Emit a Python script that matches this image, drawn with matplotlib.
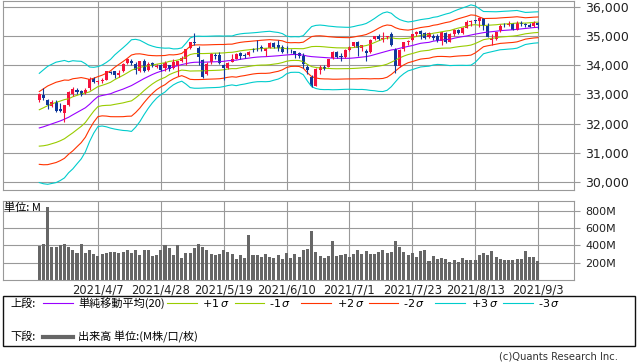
import numpy as np
import matplotlib.pyplot as plt
from matplotlib.patches import Rectangle
from matplotlib.lines import Line2D

# trading days shown (2021)
dates = ['3/17', '3/18', '3/19', '3/22', '3/23', '3/24', '3/25', '3/26', '3/29', '3/30', '3/31', '4/1', '4/5', '4/6',
         '4/7', '4/8', '4/9', '4/12', '4/13', '4/14', '4/15', '4/16', '4/19', '4/20', '4/21', '4/22', '4/23', '4/26', '4/27',
         '4/28', '4/29', '4/30', '5/3', '5/4', '5/5', '5/6', '5/7', '5/10', '5/11', '5/12', '5/13', '5/14', '5/17', '5/18',
         '5/19', '5/20', '5/21', '5/24', '5/25', '5/26', '5/27', '5/28', '6/1', '6/2', '6/3', '6/4', '6/7', '6/8', '6/9',
         '6/10', '6/11', '6/14', '6/15', '6/16', '6/17', '6/18', '6/21', '6/22', '6/23', '6/24', '6/25', '6/28', '6/29', '6/30',
         '7/1', '7/2', '7/6', '7/7', '7/8', '7/9', '7/12', '7/13', '7/14', '7/15', '7/16', '7/19', '7/20', '7/21', '7/22',
         '7/23', '7/26', '7/27', '7/28', '7/29', '7/30', '8/2', '8/3', '8/4', '8/5', '8/6', '8/9', '8/10', '8/11', '8/12',
         '8/13', '8/16', '8/17', '8/18', '8/19', '8/20', '8/23', '8/24', '8/25', '8/26', '8/27', '8/30', '8/31', '9/1', '9/2',
         '9/3']
tick_dates = ['4/7', '4/28', '5/19', '6/10', '7/1', '7/23', '8/13', '9/3']

opens = [32800, 32990, 32800, 32600, 32750, 32500, 32350, 32650, 33000, 33150,
         33100, 33050, 33200, 33550, 33420, 33470, 33500, 33770, 33790, 33650,
         33800, 34080, 34150, 34050, 33800, 34150, 33830, 34060, 33950, 33990,
         33900, 33990, 33900, 33980, 34150, 34200, 34580, 34800, 34600, 34170,
         33700, 34100, 34360, 34330, 34000, 33900, 34100, 34220, 34400, 34330,
         34330, 34540, 34600, 34610, 34500, 34600, 34760, 34680, 34620, 34500,
         34500, 34480, 34400, 34300, 33950, 33600, 33300, 33850, 33950, 33950,
         34250, 34450, 34300, 34280, 34520, 34650, 34800, 34580, 34500, 34450,
         34900, 34980, 34900, 34950, 35050, 34550, 33980, 34550, 34780, 34850,
         35050, 35160, 35100, 34950, 35000, 35000, 34830, 35100, 34800, 35050,
         35200, 35100, 35280, 35480, 35520, 35500, 35600, 35350, 34850, 34900,
         35200, 35380, 35370, 35400, 35200, 35450, 35400, 35380, 35330, 35440]
highs = [33050, 33227, 32850, 32800, 32800, 32700, 32650, 33100, 33250, 33200,
         33150, 33200, 33600, 33600, 33500, 33550, 33810, 33800, 33800, 33850,
         34060, 34256, 34200, 34100, 34150, 34200, 34100, 34100, 34050, 34050,
         34150, 34000, 34200, 34150, 34300, 34560, 34800, 35091, 34650, 34200,
         34100, 34400, 34400, 34450, 34050, 34120, 34370, 34430, 34450, 34400,
         34500, 34600, 34850, 34700, 34600, 34800, 34800, 34850, 34700, 34650,
         34550, 34500, 34450, 34400, 34000, 33650, 33900, 34000, 34000, 34200,
         34470, 34480, 34400, 34550, 34650, 34800, 34820, 34700, 34550, 34900,
         35000, 35050, 35150, 35000, 35150, 34600, 34550, 34800, 34850, 35080,
         35170, 35200, 35150, 35150, 35050, 35050, 35150, 35150, 35100, 35250,
         35230, 35300, 35550, 35530, 35550, 35631, 35620, 35450, 35050, 35150,
         35400, 35450, 35500, 35450, 35500, 35500, 35450, 35450, 35500, 35470]
lows = [32750, 32800, 32500, 32550, 32400, 32400, 32050, 32600, 32950, 33000,
        32950, 33000, 33150, 33400, 33350, 33400, 33480, 33700, 33550, 33600,
        33780, 34050, 34000, 33700, 33750, 33750, 33800, 33950, 33900, 33800,
        33800, 33800, 33880, 33640, 34100, 34000, 34550, 34700, 34000, 33550,
        33650, 34050, 34200, 34050, 33474, 33880, 34100, 34200, 34200, 34250,
        34300, 34450, 34500, 34500, 34300, 34580, 34600, 34500, 34430, 34400,
        34400, 34250, 34250, 33900, 33700, 33260, 33280, 33700, 33850, 33930,
        34200, 34250, 34150, 34250, 34500, 34630, 34300, 34500, 34145, 34430,
        34850, 34850, 34800, 34900, 34650, 33741, 33950, 34500, 34700, 34820,
        35000, 34900, 34900, 34940, 34850, 34800, 34700, 34750, 34780, 35000,
        35050, 35050, 35260, 35350, 35450, 35300, 35200, 34950, 34690, 34850,
        35150, 35300, 35330, 35200, 35200, 35350, 35300, 35300, 35300, 35250]
closes = [33015, 32862, 32628, 32732, 32423, 32420, 32620, 33073, 33171, 33067,
          32982, 33153, 33527, 33430, 33446, 33504, 33801, 33746, 33677, 33730,
          34036, 34201, 34078, 33821, 34137, 33816, 34043, 33982, 33985, 33821,
          34060, 33875, 34113, 34133, 34230, 34548, 34778, 34743, 34270, 33587,
          34022, 34382, 34327, 34061, 33896, 34084, 34208, 34394, 34313, 34323,
          34465, 34529, 34575, 34600, 34577, 34756, 34630, 34600, 34447, 34467,
          34480, 34394, 34299, 34033, 33823, 33290, 33876, 33945, 33874, 34196,
          34433, 34283, 34292, 34503, 34634, 34786, 34577, 34681, 34421, 34870,
          34996, 34889, 34934, 34987, 34688, 33962, 34512, 34798, 34823, 35061,
          35144, 35059, 34931, 35085, 34935, 34838, 35117, 34793, 35065, 35209,
          35102, 35265, 35485, 35500, 35516, 35626, 35343, 34961, 34894, 35120,
          35336, 35367, 35406, 35214, 35456, 35400, 35361, 35313, 35444, 35369]

ma = [31850, 31890, 31940, 31990, 32040, 32090, 32150, 32216, 32300, 32380,
      32460, 32540, 32660, 32800, 32923, 32960, 32990, 33020, 33080, 33130,
      33180, 33240, 33300, 33380, 33459, 33540, 33610, 33680, 33740, 33790,
      33830, 33900, 33940, 33980, 34020, 34050, 34080, 34097, 34100, 34100,
      34105, 34110, 34115, 34120, 34130, 34150, 34160, 34170, 34200, 34220,
      34240, 34260, 34275, 34285, 34290, 34300, 34310, 34320, 34335, 34348,
      34360, 34365, 34360, 34340, 34310, 34291, 34280, 34270, 34260, 34250,
      34240, 34234, 34234, 34234, 34234, 34245, 34260, 34275, 34291, 34320,
      34360, 34400, 34440, 34480, 34519, 34540, 34576, 34610, 34640, 34670,
      34710, 34747, 34765, 34780, 34820, 34840, 34860, 34875, 34884, 34920,
      34950, 34975, 34998, 35030, 35060, 35085, 35112, 35130, 35145, 35160,
      35180, 35190, 35200, 35210, 35226, 35240, 35255, 35270, 35285, 35294]
sig = [623, 650, 673, 680, 687, 680, 670, 633, 617, 586,
       557, 503, 425, 375, 342, 348, 367, 392, 423, 448,
       472, 495, 523, 501, 464, 412, 363, 323, 290, 267,
       250, 228, 205, 193, 190, 233, 283, 296, 297, 295,
       294, 294, 294, 293, 288, 283, 279, 291, 290, 289,
       285, 282, 281, 283, 286, 286, 275, 266, 248, 215,
       203, 203, 203, 223, 286, 343, 360, 367, 366, 362,
       361, 358, 356, 354, 353, 358, 365, 369, 378, 395,
       412, 433, 448, 447, 419, 370, 328, 300, 279, 275,
       272, 270, 271, 272, 272, 272, 281, 291, 300, 310,
       319, 327, 336, 344, 323, 282, 241, 234, 228, 222,
       218, 218, 217, 217, 215, 199, 183, 180, 178, 177]

# volume, millions
vol = [393, 420, 847, 385, 385, 404, 420, 385, 350, 316,
       420, 316, 350, 304, 281, 304, 316, 327, 327, 316,
       327, 350, 316, 350, 293, 350, 350, 281, 293, 350,
       408, 373, 293, 408, 258, 316, 316, 373, 420, 385,
       350, 304, 293, 304, 350, 327, 304, 246, 293, 258,
       524, 293, 293, 270, 304, 270, 258, 293, 246, 316,
       258, 304, 270, 350, 362, 570, 327, 281, 258, 281,
       454, 281, 293, 304, 270, 304, 350, 304, 339, 304,
       304, 327, 350, 316, 327, 454, 385, 327, 293, 316,
       270, 339, 350, 223, 281, 246, 258, 246, 212, 235,
       212, 258, 235, 235, 235, 293, 316, 293, 339, 270,
       246, 235, 235, 235, 246, 246, 339, 270, 270, 223]

price_ticks = [30000, 31000, 32000, 33000, 34000, 35000, 36000]
vol_ticks = [200, 400, 600, 800]

RED = '#f5123d'
BLUE = '#10389a'
GRID = '#999999'
JP = ['Noto Sans CJK JP', 'DejaVu Sans']

W, H = 638, 362
fig = plt.figure(figsize=(W / 100, H / 100), dpi=100)


def box(l, t, r, b):
    return [l / W, 1 - b / H, (r - l) / W, (b - t) / H]


def fx(px):
    return px / W


def fy(py):
    return 1 - py / H


x = np.arange(len(closes))
o = np.array(opens)
c = np.array(closes)
m = np.array(ma)
s = np.array(sig)
tick_pos = [dates.index(d) for d in tick_dates]

# ---- price panel ----
ax = fig.add_axes(box(3, 0.7, 574, 190))
for k, col in [(3, '#00cccc'), (2, '#ff3300'), (1, '#99cc00')]:
    ax.plot(x, m + k * s, color=col, lw=0.8)
    ax.plot(x, m - k * s, color=col, lw=0.8)
ax.plot(x, m, color='#9900ff', lw=0.8)

colors = np.where(c >= o, RED, BLUE)
ax.vlines(x, lows, highs, colors=colors, lw=0.8)
ax.bar(x, np.maximum(np.abs(c - o), 15), bottom=np.minimum(o, c), width=0.72,
       color=colors, linewidth=0)

ax.set_xlim(-8.66, 127.6)
ax.set_ylim(29726, 36205)
ax.set_xticks(tick_pos)
ax.set_yticks(price_ticks)
ax.set_yticklabels([f'{v:,}' for v in price_ticks])
ax.yaxis.tick_right()
ax.tick_params(axis='y', length=4, color=GRID, labelsize=9, pad=4, labelcolor='#222222')
ax.tick_params(axis='x', length=0, labelbottom=False)
ax.grid(True, color=GRID, lw=0.8)
ax.set_axisbelow(True)
for sp in ax.spines.values():
    sp.set_color(GRID)
    sp.set_linewidth(0.8)

# ---- volume panel ----
axv = fig.add_axes(box(3, 201.3, 574, 280.3))
axv.bar(x, vol, width=0.72, color='#666666', linewidth=0)
axv.set_xlim(-8.66, 127.6)
axv.set_ylim(0, 908)
axv.set_xticks(tick_pos)
axv.set_xticklabels(['2021/' + d for d in tick_dates])
axv.set_yticks(vol_ticks)
axv.set_yticklabels([f'{v}M' for v in vol_ticks])
axv.yaxis.tick_right()
axv.tick_params(axis='y', length=4, color=GRID, labelsize=8, pad=4, labelcolor='#222222')
axv.tick_params(axis='x', length=0, labelsize=8.3, pad=2, labelcolor='#222222')
axv.grid(True, color=GRID, lw=0.8)
axv.set_axisbelow(True)
for sp in axv.spines.values():
    sp.set_color(GRID)
    sp.set_linewidth(0.8)
fig.text(fx(4), fy(208), '単位: M', fontsize=8, va='center', ha='left', family=JP)

# ---- legend box ----
fig.add_artist(Rectangle((fx(3), fy(346)), fx(632), 50 / H, transform=fig.transFigure,
                         fill=False, edgecolor='#111111', lw=1))
r1, r2 = fy(303.3), fy(336.7)
fig.text(fx(10), r1, '上段:', fontsize=8, va='center', family=JP)
fig.text(fx(78), r1, '単純移動平均(20)', fontsize=8, va='center', family=JP)
segs = [(43, 73, '#9900ff'), (167, 197, '#99cc00'), (235, 264, '#99cc00'),
        (301, 331, '#ff3300'), (369, 398, '#ff3300'), (435, 465, '#00cccc'), (503, 533, '#00cccc')]
for a, b, col in segs:
    fig.add_artist(Line2D([fx(a), fx(b)], [r1, r1], transform=fig.transFigure, color=col, lw=0.8))
for px, lab in [(202, '+1'), (269, '-1'), (337, '+2'), (403, '-2'), (471, '+3'), (538, '-3')]:
    fig.text(fx(px), r1, lab + r'$\,\sigma$', fontsize=8, va='center')
fig.text(fx(10), r2, '下段:', fontsize=8, va='center', family=JP)
fig.add_artist(Line2D([fx(43), fx(73)], [r2, r2], transform=fig.transFigure, color='#666666', lw=3))
fig.text(fx(78), r2, '出来高 単位:(M株/口/枚)', fontsize=8, va='center', family=JP)

fig.text(fx(618), fy(356.5), '(c)Quants Research Inc.', fontsize=7.2, va='center', ha='right',
         color='#333333')

fig.savefig('out.png', dpi=100)
